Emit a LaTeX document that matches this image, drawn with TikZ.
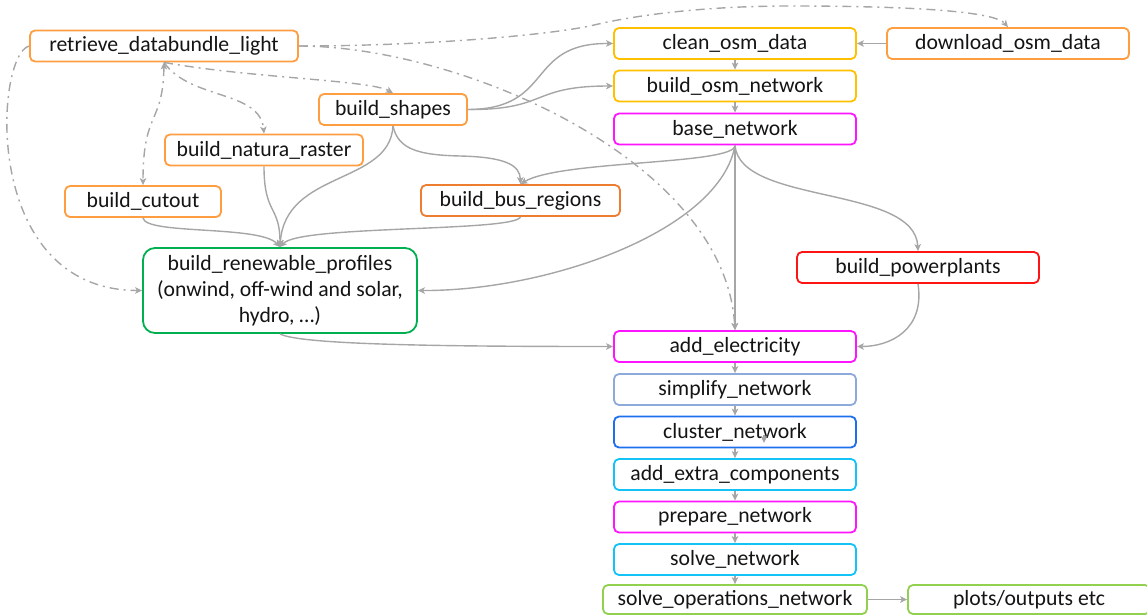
\documentclass[tikz,border=0pt]{standalone}
\usepackage{fontspec}
\setmainfont{Carlito}
\usetikzlibrary{arrows.meta}

\definecolor{edgegray}{RGB}{166,166,166}
\definecolor{orangeL}{RGB}{255,158,64}
\definecolor{orangeD}{RGB}{237,125,49}
\definecolor{gold}{RGB}{255,192,0}
\definecolor{magentaN}{RGB}{255,20,255}
\definecolor{greyblue}{RGB}{142,170,219}
\definecolor{blueN}{RGB}{30,110,240}
\definecolor{cyanN}{RGB}{20,195,245}
\definecolor{greenL}{RGB}{146,208,80}
\definecolor{greenD}{RGB}{0,176,80}
\definecolor{redN}{RGB}{255,20,20}
\definecolor{ink}{RGB}{20,20,20}

\tikzset{gtip/.tip={Stealth[length=7pt,width=6.5pt,inset=1.8pt]}}

\begin{document}
\begin{tikzpicture}[x=1pt,y=-1pt,
  box/.style={draw, fill=white, rounded corners=5pt, line width=1.8pt,
    inner sep=0pt, minimum height=31pt, minimum width=242pt,
    font=\fontsize{21.7}{26}\selectfont, text=ink, align=center},
  link/.style={draw=edgegray, line width=1.4pt, -gtip},
  dd/.style={link, dash pattern=on 9pt off 5pt on 2pt off 5pt},
]
\useasboundingbox (0,0) rectangle (1147,614);

% preparation rules
\node[box, draw=orangeL, minimum width=268pt] (retrieve) at (164,46) {retrieve\_databundle\_light};
\node[box, draw=orangeL, minimum width=148pt] (shapes) at (393,109.5) {build\_shapes};
\node[box, draw=orangeL, minimum width=198pt] (natura) at (264,150) {build\_natura\_raster};
\node[box, draw=orangeL, minimum width=156pt] (cutout) at (143,201.5) {build\_cutout};
\node[box, draw=orangeD, minimum width=199pt] (busreg) at (520.5,200.5) {build\_bus\_regions};
\node[box, draw=greenD, minimum width=274pt, minimum height=85pt, rounded corners=12pt]
  (renew) at (280,290.5) {build\_renewable\_profiles\\(onwind, off-wind and solar,\\hydro, …)};
\node[box, draw=orangeL] (download) at (1008,43.5) {download\_osm\_data};
\node[box, draw=redN] (pplants) at (918,267.5) {build\_powerplants};

% main chain
\node[box, draw=gold] (clean) at (735,43.5) {clean\_osm\_data};
\node[box, draw=gold] (osmnet) at (735,86) {build\_osm\_network};
\node[box, draw=magentaN] (base) at (735,129) {base\_network};
\node[box, draw=magentaN] (addel) at (735,346.5) {add\_electricity};
\node[box, draw=greyblue] (simpl) at (735,389.5) {simplify\_network};
\node[box, draw=blueN] (cluster) at (735,432) {cluster\_network};
\node[box, draw=cyanN] (extra) at (735,474.5) {add\_extra\_components};
\node[box, draw=magentaN] (prep) at (735,517) {prepare\_network};
\node[box, draw=cyanN] (solve) at (735,559.5) {solve\_network};
\node[box, draw=greenL, minimum width=264pt, minimum height=29pt] (solveops) at (735,599.5) {solve\_operations\_network};
\node[box, draw=greenL, minimum height=29pt] (plots) at (1029,599.5) {plots/outputs etc};

% solid dependencies
\draw[link] (clean.south) -- (osmnet.north);
\draw[link] (osmnet.south) -- (base.north);
\draw[link] (download.west) -- (clean.east);
\draw[link] (shapes.east) .. controls (555,109) and (525,43) .. (clean.west);
\draw[link] (shapes.east) .. controls (548,110) and (530,86) .. (osmnet.west);
\draw[link] (shapes.south) .. controls (398,150) and (420,155) .. (460,156)
  .. controls (505,157) and (520,165) .. (busreg.north);
\draw[link] (shapes.south) .. controls (390,185) and (285,170) .. (renew.north);
\draw[link] (natura.south) .. controls (264,215) and (280,205) .. (renew.north);
\draw[link] (cutout.south) .. controls (145,235) and (260,225) .. (renew.north);
\draw[link] (busreg.south) .. controls (515,232) and (300,225) .. (renew.north);
\draw[link] (base.south) .. controls (735,165) and (560,160) .. (busreg.north);
\draw[link] (base.south) .. controls (720,230) and (550,291) .. (renew.east);
\draw[link] (base.south) -- (addel.north);
\draw[link] (base.south) .. controls (740,205) and (915,185) .. (pplants.north);
\draw[link] (pplants.south) .. controls (925,330) and (890,346.5) .. (addel.east);
\draw[link] (renew.south) .. controls (300,345) and (450,346.5) .. (addel.west);
\draw[link] (addel.south) -- (simpl.north);
\draw[link] (simpl.south) -- (cluster.north);
\draw[link] (cluster.south) -- (extra.north);
\draw[link] (extra.south) -- (prep.north);
\draw[link] (prep.south) -- (solve.north);
\draw[link] (solve.south) -- (solveops.north);
\draw[link] (solveops.east) -- (plots.west);

% small tip inside cluster_network
\coordinate (tipA) at (764,435);
\coordinate (tipB) at (764,443);
\draw[link] (tipA) -- (tipB);

% data bundle dependencies
\draw[dd] (retrieve.south) .. controls (250,78) and (370,80) .. (shapes.north);
\draw[dd] (retrieve.south) .. controls (190,100) and (260,90) .. (natura.north);
\draw[dd, gtip-gtip]
  (retrieve.south) .. controls (163,125) and (143,110) .. (cutout.north);
\draw[dd] (retrieve.west) .. controls (-5,55) and (-20,290) .. (renew.west);
\draw[dd] (retrieve.east) .. controls (420,46) and (540,36) .. (590,26)
  .. controls (630,16) and (700,6) .. (790,6)
  .. controls (920,6) and (995,12) .. (download.north);
\draw[dd] (retrieve.east) .. controls (460,46) and (725,160) .. (addel.north);
\end{tikzpicture}
\end{document}
